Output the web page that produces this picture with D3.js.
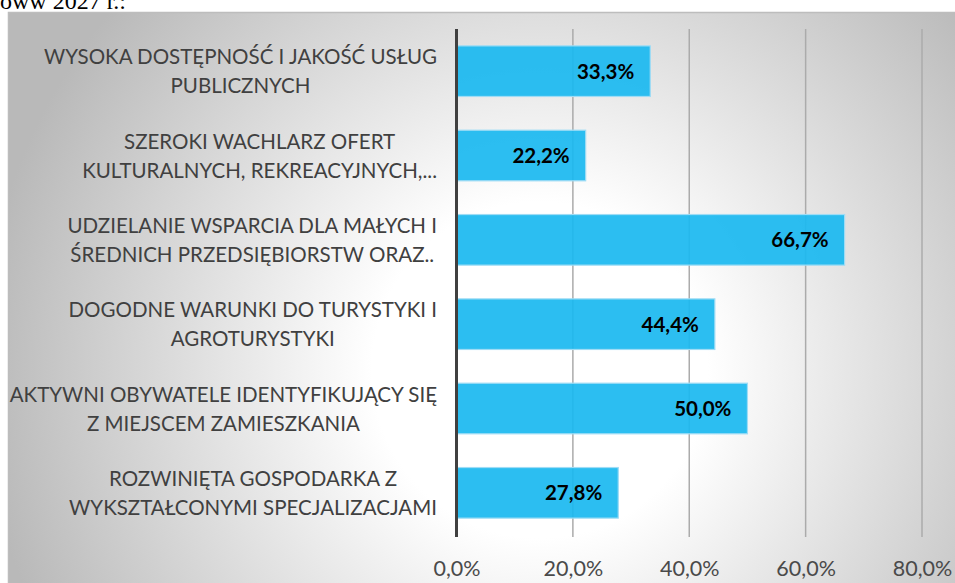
<!DOCTYPE html>
<html>
<head>
<meta charset="utf-8">
<script src="https://cdn.jsdelivr.net/npm/d3@7"></script>
<style>
  html, body { margin: 0; padding: 0; background: #ffffff; }
  svg { display: block; }
</style>
</head>
<body>
<svg id="chart" width="955" height="583"></svg>
<script>
// Categories, top to bottom, each split into its two printed lines
const categories = [
  ["WYSOKA DOSTĘPNOŚĆ I JAKOŚĆ USŁUG", "PUBLICZNYCH"],
  ["SZEROKI WACHLARZ OFERT", "KULTURALNYCH, REKREACYJNYCH,..."],
  ["UDZIELANIE WSPARCIA DLA MAŁYCH I", "ŚREDNICH PRZEDSIĘBIORSTW ORAZ.."],
  ["DOGODNE WARUNKI DO TURYSTYKI I", "AGROTURYSTYKI"],
  ["AKTYWNI OBYWATELE IDENTYFIKUJĄCY SIĘ", "Z MIEJSCEM ZAMIESZKANIA"],
  ["ROZWINIĘTA GOSPODARKA Z", "WYKSZTAŁCONYMI SPECJALIZACJAMI"]
];
// Share of answers, percent
const values = [33.3, 22.2, 66.7, 44.4, 50.0, 27.8];
const xTicks = [0, 20, 40, 60, 80];
const headingText = "oww 2027 r.:";

const svg = d3.select("#chart");
const fmt = v => d3.format(".1f")(v).replace(".", ",") + "%";

// Chart area background: soft radial grey-to-white fill
const defs = svg.append("defs");
const grad = defs.append("radialGradient")
  .attr("id", "bg")
  .attr("gradientUnits", "userSpaceOnUse")
  .attr("cx", 540).attr("cy", 370).attr("r", 560);
grad.append("stop").attr("offset", "0").attr("stop-color", "#ffffff");
grad.append("stop").attr("offset", "0.3").attr("stop-color", "#ffffff");
grad.append("stop").attr("offset", "1").attr("stop-color", "#b9b9b9");

svg.append("rect")
  .attr("x", 8.5).attr("y", 12.5)
  .attr("width", 960).attr("height", 590)
  .attr("fill", "url(#bg)")
  .attr("stroke", "#bdbdbd")
  .attr("stroke-width", 1.5);

// Heading fragment of the surrounding document, clipped at the top edge
svg.append("text")
  .attr("x", 0).attr("y", 9)
  .attr("font-family", "'Liberation Serif', 'DejaVu Serif', serif")
  .attr("font-size", 24)
  .attr("fill", "#000")
  .text(headingText);

const x = d3.scaleLinear().domain([0, 80]).range([456.5, 922]);
const y = d3.scaleBand()
  .domain(d3.range(categories.length))
  .range([29, 535])
  .paddingInner(0.4)
  .paddingOuter(0.2);

// Vertical gridlines
svg.append("g")
  .selectAll("line")
  .data(xTicks.filter(t => t > 0))
  .join("line")
  .attr("x1", d => x(d)).attr("x2", d => x(d))
  .attr("y1", 29).attr("y2", 537)
  .attr("stroke", "#ababab")
  .attr("stroke-width", 1.5);

// Bars
svg.append("g")
  .selectAll("rect")
  .data(values)
  .join("rect")
  .attr("x", x(0))
  .attr("y", (d, i) => y(i))
  .attr("width", d => x(d) - x(0))
  .attr("height", y.bandwidth())
  .attr("fill", "#1ab8f0")
  .attr("fill-opacity", 0.92)
  .attr("stroke", "#9fdcf5")
  .attr("stroke-width", 1.2);

// Value labels at the inside end of each bar
svg.append("g")
  .selectAll("text")
  .data(values)
  .join("text")
  .attr("x", d => x(d) - 16)
  .attr("y", (d, i) => y(i) + y.bandwidth() / 2)
  .attr("dy", "0.36em")
  .attr("text-anchor", "end")
  .attr("font-family", "Lato, 'Open Sans', sans-serif")
  .attr("font-weight", "bold")
  .attr("font-size", 20.5)
  .attr("fill", "#000")
  .text(d => fmt(d));

// Category axis line
svg.append("line")
  .attr("x1", x(0)).attr("x2", x(0))
  .attr("y1", 29).attr("y2", 537)
  .attr("stroke", "#404040")
  .attr("stroke-width", 3);

// Category labels: two centred lines, block right-aligned against the axis
const labelRight = 437;
const catG = svg.append("g")
  .attr("font-family", "Lato, 'Open Sans', sans-serif")
  .attr("font-size", 20.5)
  .attr("fill", "#404040");

categories.forEach((lines, i) => {
  const cy = y(i) + y.bandwidth() / 2;
  const texts = lines.map((ln, k) => catG.append("text")
    .attr("y", cy + (k === 0 ? -14 : 15))
    .attr("dy", "0.35em")
    .attr("text-anchor", "middle")
    .text(ln));
  const widest = d3.max(texts, t => t.node().getComputedTextLength());
  texts.forEach(t => t.attr("x", labelRight - widest / 2));
});

// Value axis tick labels
const xAxis = d3.axisBottom(x)
  .tickValues(xTicks)
  .tickSize(0)
  .tickPadding(0)
  .tickFormat(d => fmt(d));
const axisG = svg.append("g")
  .attr("transform", "translate(0,561)")
  .call(xAxis);
axisG.select(".domain").remove();
axisG.selectAll("text")
  .attr("font-family", "Lato, 'Open Sans', sans-serif")
  .attr("font-size", 21.5)
  .attr("fill", "#4a4a4a");
</script>
</body>
</html>
